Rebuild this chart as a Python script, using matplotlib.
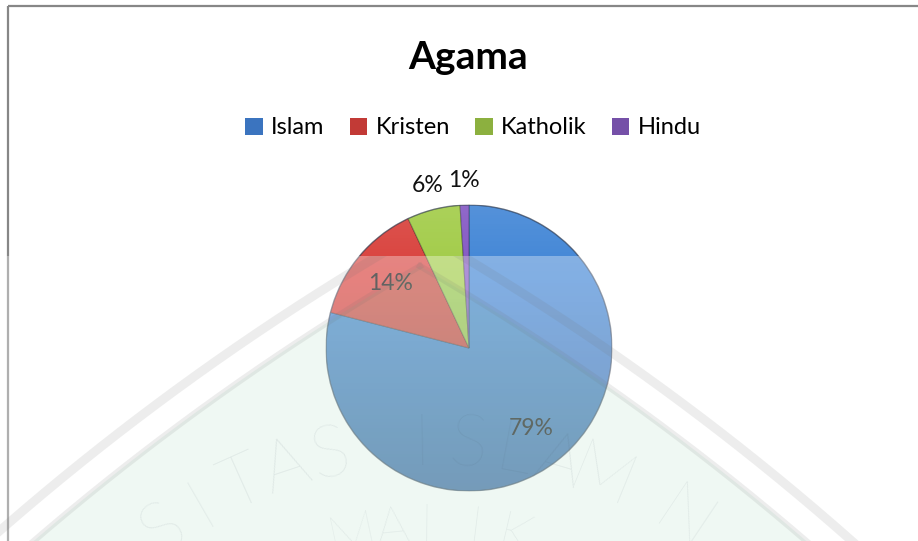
import numpy as np
import matplotlib.pyplot as plt
from matplotlib.patches import Patch, Rectangle, Circle, Polygon

plt.rcParams['font.family'] = ['Lato', 'DejaVu Sans']

# data
chart_title = 'Agama'
labels = ['Islam', 'Kristen', 'Katholik', 'Hindu']
values = [79, 14, 6, 1]
colors = ['#4286d6', '#d9423d', '#a2cc48', '#8458c4']
legend_colors = ['#3b74bf', '#c23a36', '#8cb03f', '#7550a8']

# watermark texts
wm_outer = 'UNIVERSITAS ISLAM NEGERI'
wm_inner = 'MAULANA MALIK IBRAHIM'

W, H = 918, 541
fig = plt.figure(figsize=(W / 100, H / 100), dpi=100)

# background frame
bg = fig.add_axes([0, 0, 1, 1])
bg.set_xlim(0, W)
bg.set_ylim(H, 0)
bg.axis('off')
bg.plot([8, W + 5], [6, 6], color='#878787', lw=1.6, solid_capstyle='butt')
bg.plot([8, 8], [6, H + 5], color='#878787', lw=1.6, solid_capstyle='butt')

# pie
cx, cy, r = 469, 348, 143
ax = fig.add_axes([(cx - r) / W, 1 - (cy + r) / H, 2 * r / W, 2 * r / H])
wedges, texts, autotexts = ax.pie(
    values, colors=colors, startangle=90, counterclock=False,
    autopct='%1.0f%%', pctdistance=0.71,
    wedgeprops=dict(edgecolor=(0, 0, 0, 0.3), linewidth=0.8),
    textprops=dict(fontsize=16.5, color='#111111'))

for w, t, v in zip(wedges, autotexts, values):
    if v < 10:
        mid = np.deg2rad((w.theta1 + w.theta2) / 2)
        t.set_position((1.17 * np.cos(mid), 1.17 * np.sin(mid)))

# bevel-like shading
shade = np.zeros((256, 1, 4))
tt = np.linspace(0, 1, 256)
shade[:, 0, :3] = np.where(tt[:, None] < 0.25, 1.0, 0.0)
shade[:, 0, 3] = np.where(tt < 0.25, 0.10 * (0.25 - tt) / 0.25, 0.26 * (tt - 0.25) / 0.75)
im = ax.imshow(shade, extent=(-1, 1, -1, 1), aspect='auto', zorder=3)
im.set_clip_path(Circle((0, 0), 1, transform=ax.transData))
ax.add_patch(Circle((0, 0), 1, fill=False, edgecolor=(0.2, 0.25, 0.35, 0.5), lw=1.0, zorder=4))
ax.set_xlim(-1, 1)
ax.set_ylim(-1, 1)
ax.set_aspect('equal')
ax.axis('off')

# title and legend
fig.text(468.5 / W, 1 - 69 / H, chart_title, ha='center', va='baseline',
         fontsize=28, fontweight='bold', color='#000000')
handles = [Patch(facecolor=c, edgecolor='none') for c in legend_colors]
fig.legend(handles, labels, loc='center', bbox_to_anchor=(473 / W, 1 - 128 / H),
           ncol=4, frameon=False, fontsize=17, handlelength=0.76, handleheight=0.76,
           handletextpad=0.35, columnspacing=1.05, borderaxespad=0)

# washed-out lower part with watermark
top = 256
ov = fig.add_axes([0, 0, 1, 1 - top / H])
ov.set_xlim(0, W)
ov.set_ylim(H, top)
ov.axis('off')
ov.add_patch(Rectangle((0, top), W, H - top, facecolor='white', alpha=0.34, edgecolor='none'))

x0, ccy, off, R = 420, 2486, 1289, 2597


def arch(radius):
    apex = ccy - np.sqrt(radius ** 2 - off ** 2)
    ys = np.linspace(apex, H + 40, 200)
    left = (x0 + off) - np.sqrt(radius ** 2 - (ys - ccy) ** 2)
    right = (x0 - off) + np.sqrt(radius ** 2 - (ys - ccy) ** 2)
    return ys, left, right


ys, lft, rgt = arch(R - 30)
poly = np.vstack([np.column_stack([lft[::-1], ys[::-1]]), np.column_stack([rgt, ys])])
ov.add_patch(Polygon(poly, closed=True, facecolor='#64be8c', alpha=0.1, edgecolor='none'))
for rad, lw in [(R, 6.5), (R - 30, 4.5)]:
    ys, lft, rgt = arch(rad)
    ov.plot(lft, ys, color='#707070', alpha=0.12, lw=lw)
    ov.plot(rgt, ys, color='#707070', alpha=0.12, lw=lw)


def arc_text(text, radius, start_deg, step_deg, size):
    for i, ch in enumerate(text):
        a = np.deg2rad(start_deg - i * step_deg)
        x, y = 430 + radius * np.cos(a), 900 - radius * np.sin(a)
        if ch == ' ' or y > H or x < 0 or x > W:
            continue
        ov.text(x, y, ch, rotation=np.rad2deg(a) - 90, ha='center', va='center',
                fontsize=size, fontweight='light', color='#4a5a6a', alpha=0.1,
                clip_on=True)


arc_text(wm_outer, 455, 160.6, 5.8, 52)
arc_text(wm_inner, 372, 152.4, 6.3, 40)

fig.savefig('out.png', dpi=100)
